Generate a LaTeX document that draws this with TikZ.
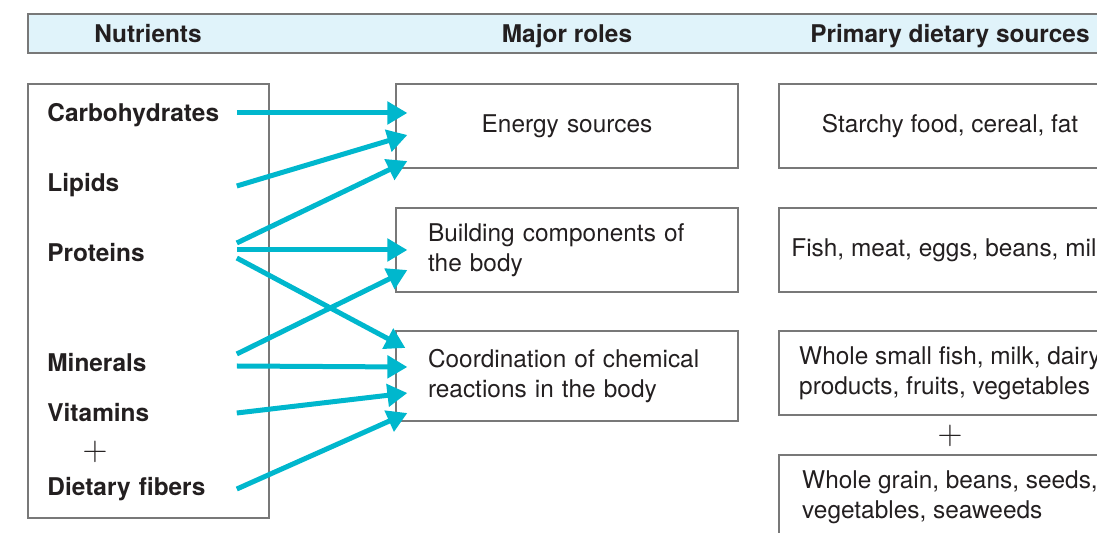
\documentclass[tikz,border=0pt]{standalone}
\usepackage{fontspec}
\setmainfont{TeX Gyre Heros}
\usetikzlibrary{arrows.meta}
\definecolor{linkcyan}{RGB}{0,183,205}
\definecolor{headfill}{RGB}{224,243,250}
\definecolor{boxline}{RGB}{120,120,120}
\definecolor{ink}{RGB}{35,31,32}
\tikzset{
	header/.style   = {inner sep = 0pt, text height = 8.8pt, text depth = 0pt,
		font = \fontsize{12.2}{15}\selectfont\bfseries, text = ink},
	nutrient/.style = {anchor = west, inner sep = 0pt, text width = 94.5pt,
		text height = 8.8pt, text depth = 0pt,
		font = \fontsize{12.2}{15}\selectfont\bfseries, text = ink},
	role/.style     = {draw = boxline, line width = 0.6pt, rectangle,
		minimum width = 171pt, minimum height = 42pt, text width = 139pt,
		align = left, font = \fontsize{12.2}{15}\selectfont, text = ink},
	source/.style   = {draw = boxline, line width = 0.6pt, rectangle,
		minimum width = 171pt, minimum height = 42pt,
		align = left, font = \fontsize{12.2}{15}\selectfont, text = ink},
	plus/.style     = {text = ink, font = \fontsize{17}{18}\selectfont}, % thin plus
	link/.style     = {->, linkcyan, line width = 2.5pt}
}

\begin{document}
\begin{tikzpicture}[x = 0.5pt, y = -0.5pt, >={Triangle[length=10pt, width=11pt]}]
	\useasboundingbox (0,0) rectangle (1097,533);
	\clip (0,0) rectangle (1097,533);

	% header band
	\fill[headfill] (28,14) rectangle (1120,53);
	\draw[boxline, line width = 0.6pt] (1120,14) -- (28,14) -- (28,53) -- (1120,53);
	\draw
	node at (148,34)[header] (hnutr) {Nutrients}
	node at (567,34)[header] (hroles) {Major roles}
	node at (950,34)[header] (hsrc) {Primary dietary sources};

	% nutrients column
	\draw[boxline, line width = 0.6pt] (28,84) rectangle (269,518);
	\draw
	node at (47,113)[nutrient] (carb) {Carbohydrates}
	node at (47,183)[nutrient] (lip) {Lipids}
	node at (47,253)[nutrient] (prot) {Proteins}
	node at (47,363)[nutrient] (min) {Minerals}
	node at (47,413)[nutrient] (vit) {Vitamins}
	node at (95,452)[plus] (plusl) {$+$}
	node at (47,487)[nutrient] (fib) {Dietary fibers};

	% major roles
	\draw
	node at (567,126)[role, align = center] (energy) {Energy sources}
	node at (567,250)[role] (build) {Building components of\\the body}
	node at (567,376)[role, minimum height = 45pt] (coord) {Coordination of chemical\\reactions in the body};

	% dietary sources
	\draw
	node at (950,126)[source, align = center] (s1) {Starchy food, cereal, fat}
	node at (950,250)[source] (s2) {Fish, meat, eggs, beans, milk}
	node at (950,373)[source] (s3) {Whole small fish, milk, dairy\\products, fruits, vegetables}
	node at (950,436)[plus] (plusr) {$+$}
	node at (950,497)[source] (s4) {Whole grain, beans, seeds,\\vegetables, seaweeds};

	% nutrient -> role links
	\draw[link] (carb.east) -- ([xshift=6pt, yshift=6.5pt]energy.west);
	\draw[link] ([yshift=-1.5pt]lip.east) -- ([xshift=6pt, yshift=-4.5pt]energy.west);
	\draw[link] ([yshift=5pt]prot.east) -- ([xshift=6pt, yshift=-17.5pt]energy.west);
	\draw[link] ([yshift=1.5pt]prot.east) -- ([xshift=6pt]build.west);
	\draw[link] ([yshift=-2.5pt]prot.east) -- ([xshift=5pt, yshift=14pt]coord.west);
	\draw[link] ([yshift=4.5pt]min.east) -- ([xshift=6pt, yshift=-10pt]build.west);
	\draw[link] ([yshift=-1.5pt]min.east) -- ([xshift=6pt, yshift=4.5pt]coord.west);
	\draw[link] (vit.east) -- ([xshift=6pt, yshift=-8.5pt]coord.west);
	\draw[link] ([yshift=-1pt]fib.east) -- ([xshift=6pt, yshift=-18.5pt]coord.west);
\end{tikzpicture}
\end{document}
